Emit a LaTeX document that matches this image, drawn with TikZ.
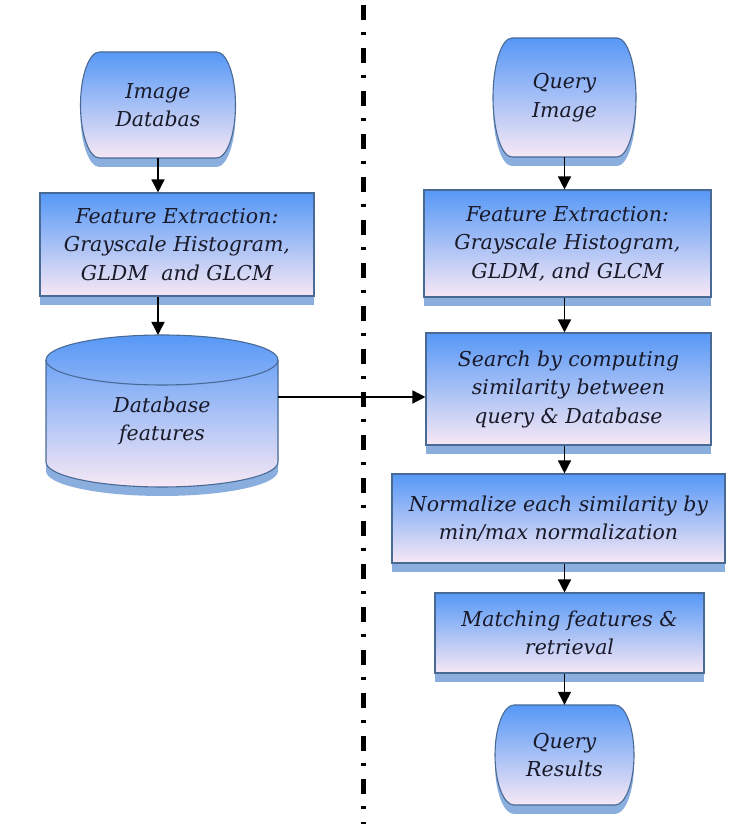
\documentclass[tikz,border=0pt]{standalone}
\usepackage{fontspec}
\setmainfont{DejaVu Serif}
\usetikzlibrary{arrows.meta,shadows}
\definecolor{topblue}{RGB}{86,152,246}
\definecolor{botpink}{RGB}{247,232,245}
\definecolor{edgeblue}{RGB}{74,106,150}
\definecolor{shadowblue}{RGB}{138,174,222}
\definecolor{txt}{RGB}{25,25,40}
\tikzset{
  gradfill/.style={top color=topblue, bottom color=botpink, draw=edgeblue, line width=1.1pt,
    general shadow={fill=shadowblue, shadow yshift=-9pt}},
  lbl/.style={font=\fontsize{20.5}{28.5}\selectfont\itshape, text=txt, align=center, inner sep=0pt},
  procbox/.style={gradfill, lbl, rectangle},
  txtholder/.style={lbl, rectangle, draw=none},
  arr/.style={line width=1.5pt, -{Triangle[width=13pt,length=13pt]}},
  divider/.style={line width=5pt, dash pattern=on 15pt off 12pt on 3pt off 13pt}
}
\newcommand\myterminal[5]{% cx cy w h rx
  \path[gradfill] ({#1-#3/2+#5},{#2+#4/2}) -- ({#1+#3/2-#5},{#2+#4/2})
    arc[start angle=90,end angle=-90,x radius=#5,y radius=#4/2]
    -- ({#1-#3/2+#5},{#2-#4/2})
    arc[start angle=270,end angle=90,x radius=#5,y radius=#4/2] -- cycle;}
\begin{document}
\begin{tikzpicture}[x=1pt,y=1pt]
\useasboundingbox (0,0) rectangle (730,824);
% divider
\draw[divider] (363,819) -- (363,0);
% left column
\myterminal{158}{719}{155}{106}{19}
\node[txtholder, minimum width=155pt, minimum height=106pt] (t1) at (158,719) {Image\\Databas};
\node[procbox, minimum width=274pt, minimum height=103pt] (fe1) at (177,579.5)
  {Feature Extraction:\\Grayscale Histogram,\\GLDM\ \ and GLCM};
% cylinder
\path[gradfill] (46,464) -- (46,362) arc[start angle=180,end angle=360,x radius=116,y radius=25]
  -- (278,464) arc[start angle=0,end angle=180,x radius=116,y radius=25] -- cycle;
\draw[edgeblue, line width=1.1pt] (46,464) arc[start angle=180,end angle=360,x radius=116,y radius=25];
\node[txtholder] (cyl) at (162,403) {Database\\features};
\coordinate (cyltop) at (158,489);
\coordinate (cylr) at (278,427);
% right column
\myterminal{564.5}{726.5}{143}{119}{19}
\node[txtholder, minimum width=143pt, minimum height=119pt] (t2) at (564.5,726.5) {Query\\Image};
\node[procbox, minimum width=287pt, minimum height=107pt] (fe2) at (567.5,580.5)
  {Feature Extraction:\\Grayscale Histogram,\\GLDM, and GLCM};
\node[procbox, minimum width=285pt, minimum height=112pt] (search) at (568.5,435)
  {Search by computing\\similarity between\\query \& Database};
\node[procbox, minimum width=333pt, minimum height=89pt] (norm) at (558.5,305.5)
  {Normalize each similarity by\\min/max normalization};
\node[procbox, minimum width=269pt, minimum height=80pt] (match) at (569.5,191)
  {Matching features \&\\retrieval};
\myterminal{564.5}{69}{139}{100}{19}
\node[txtholder, minimum width=139pt, minimum height=100pt] (t3) at (564.5,69) {Query\\Results};
% connectors
\draw[arr] (t1.south) -- (t1.south |- fe1.north);
\draw[arr] (t1.south |- fe1.south) -- (cyltop);
\draw[arr] (cylr) -- (search.west |- cylr);
\draw[arr] (t2.south) -- (t2.south |- fe2.north);
\draw[arr] (t2.south |- fe2.south) -- (t2.south |- search.north);
\draw[arr] (t2.south |- search.south) -- (t2.south |- norm.north);
\draw[arr] (t2.south |- norm.south) -- (t2.south |- match.north);
\draw[arr] (t2.south |- match.south) -- (t3.north);
\end{tikzpicture}
\end{document}
